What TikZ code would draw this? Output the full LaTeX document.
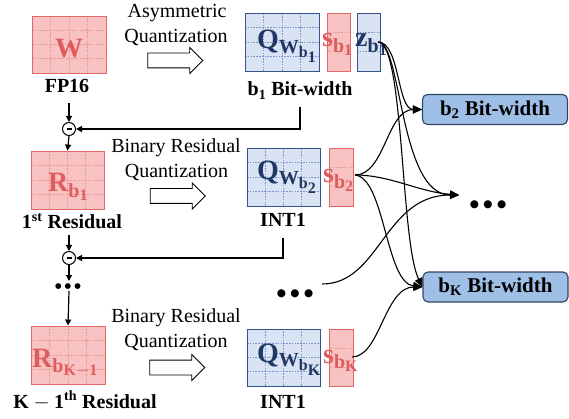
\documentclass[tikz,border=0pt]{standalone}
\usepackage{fontspec}
\setmainfont{Liberation Serif}
\newfontfamily\symfont{DejaVu Sans}
\usetikzlibrary{arrows.meta,shapes.arrows,calc}
\DeclareMathSizes{28}{28}{20}{16}

\definecolor{redfill}{RGB}{248,194,194}
\definecolor{redline}{RGB}{226,104,104}
\definecolor{redtext}{RGB}{224,92,92}
\definecolor{redgrid}{RGB}{232,150,150}
\definecolor{bluefill}{RGB}{218,227,243}
\definecolor{blueline}{RGB}{52,84,140}
\definecolor{bluetext}{RGB}{31,56,100}
\definecolor{bluegrid}{RGB}{125,150,200}
\definecolor{widthfill}{RGB}{158,192,230}
\definecolor{widthline}{RGB}{50,68,96}

% three round dots in a row; #1 = glyph size, #2 = gap
\newcommand\dotrow[2]{{\symfont\fontsize{#1}{#1}\selectfont ●\hspace{#2}●\hspace{#2}●}}

\tikzset{
  cell/.style={rectangle, inner sep=0pt, line width=0.9pt},
  redcell/.style={cell, draw=redline, fill=redfill},
  bluecell/.style={cell, draw=blueline, fill=bluefill},
  % #1 inner vertical lines, #2 inner horizontal lines, #3 colour
  cellgrid/.style n args={3}{path picture={
    \ifnum#1>0
      \foreach \k in {1,...,#1}{
        \pgfmathsetmacro\fr{\k/(#1+1)}
        \draw[#3, line width=0.6pt, dash pattern=on 1.6pt off 1.2pt]
          ($(path picture bounding box.south west)!\fr!(path picture bounding box.south east)$) --
          ($(path picture bounding box.north west)!\fr!(path picture bounding box.north east)$);
      }
    \fi
    \ifnum#2>0
      \foreach \k in {1,...,#2}{
        \pgfmathsetmacro\fr{\k/(#2+1)}
        \draw[#3, line width=0.6pt, dash pattern=on 1.6pt off 1.2pt]
          ($(path picture bounding box.south west)!\fr!(path picture bounding box.north west)$) --
          ($(path picture bounding box.south east)!\fr!(path picture bounding box.north east)$);
      }
    \fi
  }},
  bigsym/.style={inner sep=0pt, anchor=base west, font=\fontsize{28}{30}\selectfont},
  capt/.style={inner sep=0pt, anchor=base, font=\fontsize{20}{24}\selectfont},
  labeltext/.style={inner sep=0pt, anchor=base, font=\fontsize{20}{24}\selectfont\bfseries},
  blockarrow/.style={single arrow, draw=black, fill=white, line width=0.8pt,
    minimum height=55pt, inner xsep=0pt, inner ysep=7pt,
    single arrow head extend=5.5pt, single arrow head indent=0pt},
  minuscirc/.style={circle, draw=black, line width=1pt, minimum size=13pt, inner sep=0pt},
  feedline/.style={draw=black, line width=1.2pt, -{Triangle[length=6pt,width=6pt]}},
  fanline/.style={draw=black, line width=1.1pt, -{Triangle[length=9pt,width=8pt]}},
  widthbox/.style={rectangle, rounded corners=5pt, draw=widthline, fill=widthfill,
    line width=1.1pt, minimum width=145pt, minimum height=30pt, inner sep=0pt,
    font=\fontsize{21}{24}\selectfont\bfseries},
  dotmark/.style={inner sep=0pt},
}

\begin{document}
\begin{tikzpicture}[x=1pt,y=-1pt]
\useasboundingbox (0,0) rectangle (569,419);

% ---------- cell blocks ----------
\node[redcell, cellgrid={3}{3}{redgrid}, minimum width=74pt, minimum height=57pt] (W) at (69,44.5) {};
\node[bluecell, cellgrid={3}{3}{bluegrid}, minimum width=74pt, minimum height=58pt] (Q1) at (282,42) {};
\node[redcell, cellgrid={0}{2}{redgrid}, minimum width=23pt, minimum height=58pt] (s1) at (338.5,42) {};
\node[bluecell, cellgrid={0}{2}{bluegrid}, minimum width=23pt, minimum height=58pt] (z1) at (368.5,42) {};

\node[redcell, cellgrid={3}{3}{redgrid}, minimum width=73pt, minimum height=58pt] (R1) at (67.5,180) {};
\node[bluecell, cellgrid={3}{3}{bluegrid}, minimum width=73pt, minimum height=58pt] (Q2) at (283.5,177) {};
\node[redcell, cellgrid={0}{2}{redgrid}, minimum width=24pt, minimum height=58pt] (s2) at (341,177) {};

\node[redcell, cellgrid={3}{3}{redgrid}, minimum width=74pt, minimum height=58pt] (R3) at (68,355) {};
\node[bluecell, cellgrid={3}{3}{bluegrid}, minimum width=73pt, minimum height=57pt] (Q3) at (283.5,357.5) {};
\node[redcell, cellgrid={0}{2}{redgrid}, minimum width=24pt, minimum height=57pt] (s3) at (341,357.5) {};

% ---------- symbols on the blocks ----------
\node[bigsym, text=redtext] (Wt) at (55,58) {$\mathbf{W}$};
\node[bigsym, text=bluetext] (Q1t) at (257,49) {$\mathbf{Q}_{\mathbf{W}_{\mathbf{b}_{\mathbf{1}}}}$};
\node[bigsym, text=redtext] (s1t) at (322,47) {$\mathbf{s}_{\mathbf{b}_{\mathbf{1}}}$};
\node[bigsym, text=bluetext] (z1t) at (355,47) {$\mathbf{z}_{\mathbf{b}_{\mathbf{1}}}$};

\node[bigsym, text=redtext] (R1t) at (48,192) {$\mathbf{R}_{\mathbf{b}_{\mathbf{1}}}$};
\node[bigsym, text=bluetext] (Q2t) at (257,180) {$\mathbf{Q}_{\mathbf{W}_{\mathbf{b}_{\mathbf{2}}}}$};
\node[bigsym, text=redtext] (s2t) at (323,183) {$\mathbf{s}_{\mathbf{b}_{\mathbf{2}}}$};

\node[bigsym, text=redtext] (R3t) at (32,367) {$\mathbf{R}_{\mathbf{b}_{\mathbf{K}-\mathbf{1}}}$};
\node[bigsym, text=bluetext] (Q3t) at (257,362) {$\mathbf{Q}_{\mathbf{W}_{\mathbf{b}_{\mathbf{K}}}}$};
\node[bigsym, text=redtext] (s3t) at (323,363) {$\mathbf{s}_{\mathbf{b}_{\mathbf{K}}}$};

% ---------- block labels ----------
\node[labeltext] (fp) at (67,93) {FP16};
\node[labeltext] (b1w) at (300,96) {$\mathbf{b}_{\mathbf{1}}$ Bit-width};
\node[labeltext] (r1lab) at (72,229) {1\textsuperscript{st} Residual};
\node[labeltext] (int2) at (283,227) {INT1};
\node[labeltext] (r3lab) at (85,408) {$\mathbf{K}-\mathbf{1}$\textsuperscript{th} Residual};
\node[labeltext] (int3) at (283,408) {INT1};

% ---------- quantization steps ----------
\node[capt] (c1a) at (177,18) {Asymmetric};
\node[capt] (c1b) at (176,43) {Quantization};
\node[blockarrow] (ar1) at (171.5,60.5) {};

\node[capt] (c2a) at (176,153) {Binary Residual};
\node[capt] (c2b) at (176.5,178) {Quantization};
\node[blockarrow] (ar2) at (174,196) {};

\node[capt] (c3a) at (176,322) {Binary Residual};
\node[capt] (c3b) at (176,347) {Quantization};
\node[blockarrow] (ar3) at (173.5,367.5) {};

% ---------- residual chain ----------
\node[minuscirc] (m1) at (69,129) {\rule{5pt}{1.8pt}};
\node[minuscirc] (m2) at (69,258) {\rule{5pt}{1.8pt}};
\node[dotmark] (ldots) at (68,287) {\dotrow{7.5}{3pt}};

\coordinate (t1) at (69,103);
\coordinate (t2) at (69,235);
\coordinate (t3) at (69,281);
\coordinate (t4) at (69,291);
\coordinate (f1) at (300,107);
\coordinate (f2) at (283,238);

\draw[feedline] (t1) -- (m1.north);
\draw[feedline] (m1.south) -- (R1.north);
\draw[feedline] (f1) |- (m1.east);
\draw[feedline] (t2) -- (m2.north);
\draw[feedline] (m2.south) -- (t3);
\draw[feedline] (f2) |- (m2.east);
\draw[feedline] (t4) -- (R3.north);

% ---------- bit-width groups ----------
\node[widthbox] (b2) at (495,109.5) {$\mathbf{b}_{\mathbf{2}}$ Bit-width};
\node[widthbox] (bK) at (495.5,287) {$\mathbf{b}_{\mathbf{K}}$ Bit-width};
\node[dotmark] (rdots) at (488,205) {\dotrow{10.5}{4.5pt}};
\node[dotmark] (mdots) at (295,294) {\dotrow{10.5}{4.5pt}};

\coordinate (zo) at (378,42);
\coordinate (s2o) at (355,175);
\coordinate (s3o) at (352,357);
\coordinate (mo) at (322,284);
\coordinate (rin) at (459,195);

\draw[fanline] (zo) .. controls +(22,0) and +(-25,0) .. (b2.west);
\draw[fanline] (zo) .. controls +(24,0) and +(-60,0) .. (rin);
\draw[fanline] (zo) .. controls +(26,0) and +(-22,-45) .. (bK.west);

\draw[fanline] (s2o) .. controls +(30,0) and +(-35,0) .. (b2.west);
\draw[fanline] (s2o) .. controls +(35,0) and +(-40,-3) .. (rin);
\draw[fanline] (s2o) .. controls +(30,3) and +(-37,-4) .. (bK.west);

\draw[fanline] (mo) .. controls +(58,0) and +(-75,0) .. (rin);
\draw[fanline] (s3o) .. controls +(28,0) and +(-38,0) .. (bK.west);
\end{tikzpicture}
\end{document}
